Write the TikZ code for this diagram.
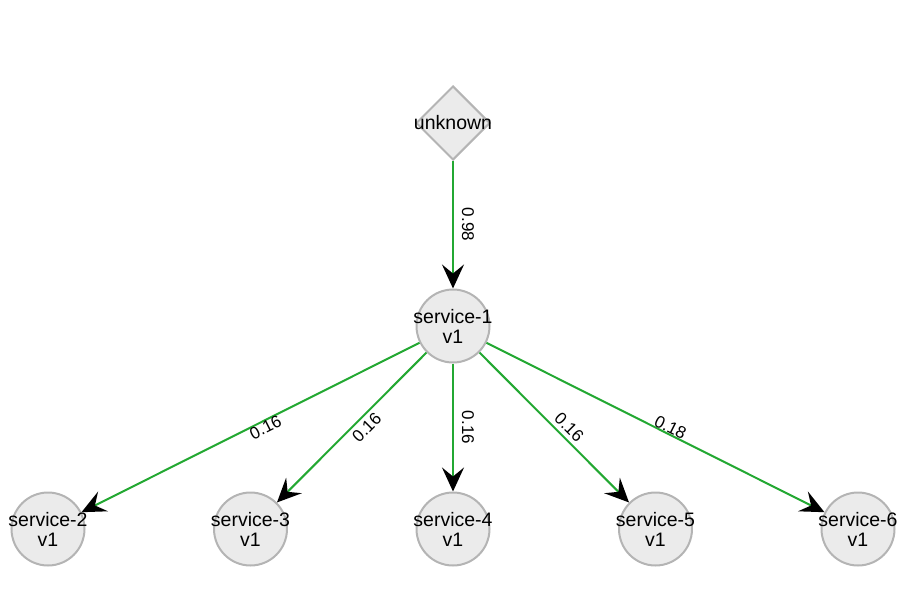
\documentclass[tikz,border=0pt]{standalone}
\usepackage{fontspec}
\setmainfont{Liberation Sans}
\usepackage{tikz}
\usetikzlibrary{shapes.geometric, arrows.meta, calc}
\definecolor{edgegreen}{RGB}{35,168,50}
\definecolor{nodegray}{RGB}{235,235,235}
\definecolor{bordergray}{RGB}{180,180,180}
\tikzstyle{service} = [circle, draw=bordergray, fill=nodegray, line width=2pt,
    minimum size=73pt, inner sep=0pt]
\tikzstyle{unknownbox} = [diamond, draw=bordergray, fill=nodegray, line width=2pt,
    minimum width=74pt, minimum height=74pt, inner sep=0pt]
\tikzstyle{nodetext} = [align=center, font=\fontsize{19.5}{20}\selectfont, inner sep=0pt]
\tikzstyle{line} = [draw=edgegreen, line width=2pt,
    -{Stealth[color=black, length=24pt, width=22pt, inset=9pt]}]
\tikzstyle{weight} = [font=\fontsize{17}{18}\selectfont, inner sep=0pt]

\begin{document}
\begin{tikzpicture}[node distance = 203pt]
    \useasboundingbox (0,0) rectangle (911pt,-592pt);
    % Place nodes
    \node [unknownbox, label={[nodetext]center:unknown}] (unknown) at (453pt,-123pt) {};
    \node [service, below of=unknown, label={[nodetext]center:service-1\\v1}] (s1) {};
    \node [service, below of=s1, label={[nodetext]center:service-4\\v1}] (s4) {};
    \node [service, left of=s4, node distance=202.5pt, label={[nodetext]center:service-3\\v1}] (s3) {};
    \node [service, left of=s3, node distance=202.5pt, label={[nodetext]center:service-2\\v1}] (s2) {};
    \node [service, right of=s4, node distance=202.5pt, label={[nodetext]center:service-5\\v1}] (s5) {};
    \node [service, right of=s5, node distance=202.5pt, label={[nodetext]center:service-6\\v1}] (s6) {};
    % Draw edges
    \path [line] (unknown) -- (s1);
    \path ($(unknown)+(15pt,0)$) -- ($(s1)+(15pt,0)$) node [weight, midway, sloped] (w-s1) {0.98};
    \foreach \target/\value in {s2/0.16, s3/0.16, s4/0.16, s5/0.16, s6/0.18} {
        \path [line] (s1) -- (\target);
        \path ($(s1)+(15pt,0)$) -- ($(\target)+(15pt,0)$) node [weight, midway, sloped] (w-\target) {\value};
    }
\end{tikzpicture}
\end{document}
